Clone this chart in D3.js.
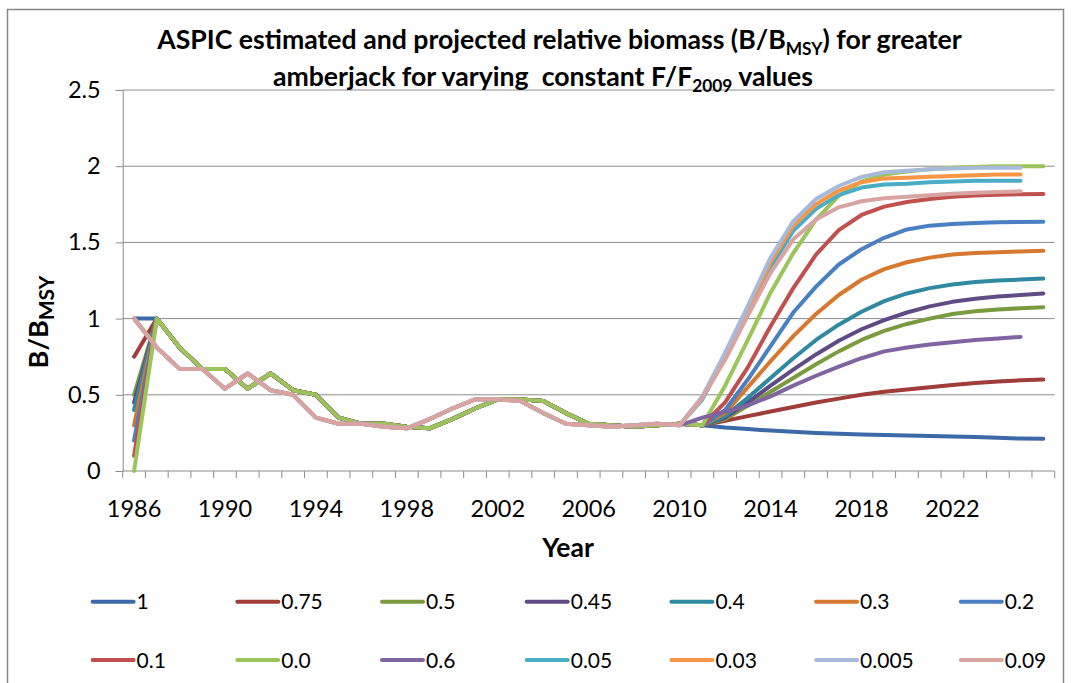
<!DOCTYPE html>
<html>
<head>
<meta charset="utf-8">
<script src="https://cdn.jsdelivr.net/npm/d3@7"></script>
<style>
  html, body { margin: 0; padding: 0; background: #ffffff; }
  svg { display: block; }
  text { font-family: Lato, "Open Sans", sans-serif; fill: #000; }
</style>
</head>
<body>
<svg id="chart" width="1071" height="683"></svg>
<script>
// Category slots along the x axis (one per year, plus a trailing unlabeled slot)
const years = ["1986","1987","1988","1989","1990","1991","1992","1993","1994","1995",
  "1996","1997","1998","1999","2000","2001","2002","2003","2004","2005",
  "2006","2007","2008","2009","2010","2011","2012","2013","2014","2015",
  "2016","2017","2018","2019","2020","2021","2022","2023","2024","2025",""];
const tickLabels = ["1986","1990","1994","1998","2002","2006","2010","2014","2018","2022"];
const yTicks = [0, 0.5, 1, 1.5, 2, 2.5];

// B/Bmsy for each constant F/F2009 scenario
const s1 = [1.00, 1.00,0.81,0.67,0.67,0.54,0.64,0.53,0.50,0.35,0.31,0.31,0.29,0.28,0.34,0.41,0.47,0.47,0.46,0.38,0.31,0.30,0.29,0.30,0.31,0.30,
  0.285,0.275,0.265,0.257,0.250,0.245,0.240,0.237,0.233,0.229,0.226,0.223,0.218,0.213,0.211];
const s075 = [0.75, 1.00,0.81,0.67,0.67,0.54,0.64,0.53,0.50,0.35,0.31,0.31,0.29,0.28,0.34,0.41,0.47,0.47,0.46,0.38,0.31,0.30,0.29,0.30,0.31,0.30,
  0.330,0.360,0.390,0.420,0.450,0.475,0.500,0.520,0.535,0.550,0.565,0.578,0.588,0.595,0.600];
const s05 = [0.50, 1.00,0.81,0.67,0.67,0.54,0.64,0.53,0.50,0.35,0.31,0.31,0.29,0.28,0.34,0.41,0.47,0.47,0.46,0.38,0.31,0.30,0.29,0.30,0.31,0.30,
  0.340,0.430,0.520,0.610,0.700,0.785,0.860,0.920,0.965,1.000,1.030,1.048,1.060,1.068,1.075];
const s045 = [0.45, 1.00,0.81,0.67,0.67,0.54,0.64,0.53,0.50,0.35,0.31,0.31,0.29,0.28,0.34,0.41,0.47,0.47,0.46,0.38,0.31,0.30,0.29,0.30,0.31,0.30,
  0.350,0.450,0.560,0.665,0.765,0.855,0.930,0.990,1.040,1.080,1.110,1.130,1.145,1.155,1.165];
const s04 = [0.40, 1.00,0.81,0.67,0.67,0.54,0.64,0.53,0.50,0.35,0.31,0.31,0.29,0.28,0.34,0.41,0.47,0.47,0.46,0.38,0.31,0.30,0.29,0.30,0.31,0.30,
  0.360,0.480,0.610,0.740,0.860,0.960,1.045,1.115,1.165,1.200,1.224,1.240,1.250,1.256,1.263];
const s03 = [0.30, 1.00,0.81,0.67,0.67,0.54,0.64,0.53,0.50,0.35,0.31,0.31,0.29,0.28,0.34,0.41,0.47,0.47,0.46,0.38,0.31,0.30,0.29,0.30,0.31,0.30,
  0.380,0.550,0.720,0.885,1.030,1.155,1.255,1.325,1.370,1.400,1.420,1.430,1.436,1.441,1.445];
const s02 = [0.20, 1.00,0.81,0.67,0.67,0.54,0.64,0.53,0.50,0.35,0.31,0.31,0.29,0.28,0.34,0.41,0.47,0.47,0.46,0.38,0.31,0.30,0.29,0.30,0.31,0.30,
  0.400,0.600,0.820,1.040,1.210,1.355,1.455,1.530,1.585,1.610,1.620,1.627,1.632,1.634,1.636];
const s01 = [0.10, 1.00,0.81,0.67,0.67,0.54,0.64,0.53,0.50,0.35,0.31,0.31,0.29,0.28,0.34,0.41,0.47,0.47,0.46,0.38,0.31,0.30,0.29,0.30,0.31,0.30,
  0.450,0.680,0.950,1.200,1.420,1.580,1.680,1.735,1.765,1.785,1.800,1.808,1.813,1.816,1.818];
const s00 = [0.00, 1.00,0.81,0.67,0.67,0.54,0.64,0.53,0.50,0.35,0.31,0.31,0.29,0.28,0.34,0.41,0.47,0.47,0.46,0.38,0.31,0.30,0.29,0.30,0.31,0.30,
  0.560,0.860,1.170,1.430,1.650,1.805,1.900,1.945,1.965,1.980,1.990,1.995,2.000,2.000,2.000];
const s06 = [1.00,0.81,0.67,0.67,0.54,0.64,0.53,0.50,0.35,0.31,0.31,0.29,0.28,0.34,0.41,0.47,0.47,0.46,0.38,0.31,0.30,0.29,0.30,0.31,0.30,
  0.350,0.390,0.430,0.490,0.560,0.625,0.685,0.740,0.785,0.810,0.830,0.845,0.860,0.870,0.880, null];
const s005 = [1.00,0.81,0.67,0.67,0.54,0.64,0.53,0.50,0.35,0.31,0.31,0.29,0.28,0.34,0.41,0.47,0.47,0.46,0.38,0.31,0.30,0.29,0.30,0.31,0.30,
  0.470,0.750,1.040,1.335,1.576,1.720,1.810,1.860,1.880,1.885,1.895,1.900,1.905,1.905,1.905, null];
const s003 = [1.00,0.81,0.67,0.67,0.54,0.64,0.53,0.50,0.35,0.31,0.31,0.29,0.28,0.34,0.41,0.47,0.47,0.46,0.38,0.31,0.30,0.29,0.30,0.31,0.30,
  0.480,0.760,1.060,1.370,1.610,1.750,1.840,1.895,1.920,1.925,1.930,1.935,1.940,1.945,1.945, null];
const s0005 = [1.00,0.81,0.67,0.67,0.54,0.64,0.53,0.50,0.35,0.31,0.31,0.29,0.28,0.34,0.41,0.47,0.47,0.46,0.38,0.31,0.30,0.29,0.30,0.31,0.30,
  0.490,0.776,1.083,1.400,1.640,1.785,1.870,1.930,1.960,1.970,1.980,1.985,1.990,1.990,1.990, null];
const s009 = [1.00,0.81,0.67,0.67,0.54,0.64,0.53,0.50,0.35,0.31,0.31,0.29,0.28,0.34,0.41,0.47,0.47,0.46,0.38,0.31,0.30,0.29,0.30,0.31,0.30,
  0.480,0.730,1.020,1.300,1.520,1.650,1.730,1.770,1.790,1.800,1.810,1.820,1.825,1.830,1.835, null];

const seriesNames = ["1","0.75","0.5","0.45","0.4","0.3","0.2","0.1","0.0","0.6","0.05","0.03","0.005","0.09"];
const seriesValues = [s1, s075, s05, s045, s04, s03, s02, s01, s00, s06, s005, s003, s0005, s009];
const seriesColors = ["#3d6aa6","#a03c39","#7a9a40","#604b85","#2f8aa1","#d7782f","#4a7fc1",
  "#c0504d","#9bc45a","#8064a2","#4bacc6","#f79646","#a7badc","#d9a3a2"];

const svg = d3.select("#chart");

// Chart frame
svg.append("rect")
  .attr("x", 7.5).attr("y", 9.5).attr("width", 1056).attr("height", 700)
  .attr("fill", "#fff").attr("stroke", "#868686").attr("stroke-width", 1.5);

const plot = { left: 122.7, right: 1054.7, top: 90, bottom: 471 };

const x = d3.scaleBand().domain(d3.range(years.length)).range([plot.left, plot.right]).padding(0);
const xc = i => x(i) + x.bandwidth() / 2;
const y = d3.scaleLinear().domain([0, 2.5]).range([plot.bottom, plot.top]);

// Horizontal gridlines
svg.append("g").selectAll("line").data(yTicks.filter(d => d > 0)).join("line")
  .attr("x1", plot.left).attr("x2", plot.right)
  .attr("y1", d => y(d)).attr("y2", d => y(d))
  .attr("stroke", "#8c8c8c").attr("stroke-width", 1);

// Y axis
const yAxis = d3.axisLeft(y).tickValues(yTicks).tickSize(7).tickPadding(15)
  .tickFormat(d => d3.format("")(d));
const gy = svg.append("g").attr("transform", `translate(${plot.left},0)`).call(yAxis);
gy.select(".domain").attr("stroke", "#8c8c8c");
gy.selectAll(".tick line").attr("stroke", "#8c8c8c");
gy.selectAll(".tick text").attr("font-size", 23.5).attr("font-family", "Lato");

// X axis: tick marks at category boundaries, labels every fourth year
const gx = svg.append("g").attr("transform", `translate(0,${plot.bottom})`);
gx.append("line").attr("x1", plot.left).attr("x2", plot.right).attr("stroke", "#8c8c8c");
gx.selectAll("line.tk").data(d3.range(years.length + 1)).join("line").attr("class", "tk")
  .attr("x1", i => plot.left + i * x.bandwidth()).attr("x2", i => plot.left + i * x.bandwidth())
  .attr("y1", 0).attr("y2", 7).attr("stroke", "#8c8c8c");
gx.selectAll("text").data(tickLabels).join("text")
  .attr("x", d => xc(years.indexOf(d))).attr("y", 46)
  .attr("text-anchor", "middle").attr("font-size", 23.5).text(d => d);

// Series lines
const line = d3.line()
  .defined(d => d != null)
  .x((d, i) => xc(i)).y(d => y(d));
svg.append("g").selectAll("path").data(seriesValues).join("path")
  .attr("d", d => line(d))
  .attr("fill", "none")
  .attr("stroke", (d, i) => seriesColors[i])
  .attr("stroke-width", 4)
  .attr("stroke-linejoin", "round").attr("stroke-linecap", "round");

// Title (two lines, sized so the first line spans the title box)
const title = svg.append("g").attr("font-weight", "bold");
const t1 = title.append("text").attr("x", 559.5).attr("y", 49).attr("text-anchor", "middle");
t1.append("tspan").attr("class", "main").text("ASPIC estimated and projected relative biomass (B/B");
t1.append("tspan").attr("class", "sub").attr("dy", 6).text("MSY");
t1.append("tspan").attr("class", "main").attr("dy", -6).text(") for greater");
const t2 = title.append("text").attr("x", 543).attr("y", 86).attr("text-anchor", "middle")
  .style("white-space", "pre");
t2.append("tspan").attr("class", "main").text("amberjack for varying  constant F/F");
t2.append("tspan").attr("class", "sub").attr("dy", 6).text("2009");
t2.append("tspan").attr("class", "main").attr("dy", -6).text(" values");
let fs = 26;
title.selectAll(".main").attr("font-size", fs);
title.selectAll(".sub").attr("font-size", fs * 0.65);
const w1 = t1.node().getComputedTextLength();
fs = fs * 805 / w1;
title.selectAll(".main").attr("font-size", fs);
title.selectAll(".sub").attr("font-size", fs * 0.65);

// Axis titles
const yt = svg.append("text").attr("transform", "translate(48,322) rotate(-90)")
  .attr("text-anchor", "middle").attr("font-weight", "bold").attr("font-size", 27);
yt.append("tspan").text("B/B");
yt.append("tspan").attr("font-size", 21).attr("dy", 6).text("MSY");
svg.append("text").attr("x", 568).attr("y", 557).attr("text-anchor", "middle")
  .attr("font-weight", "bold").attr("font-size", 26.5).text("Year");

// Legend: two rows of seven entries
const leg = svg.append("g").selectAll("g").data(seriesNames).join("g")
  .attr("transform", (d, i) => `translate(${92.6 + (i % 7) * 144.7},${601.7 + Math.floor(i / 7) * 58.3})`);
leg.append("line").attr("x1", 0).attr("x2", 41).attr("stroke", (d, i) => seriesColors[i])
  .attr("stroke-width", 4).attr("stroke-linecap", "round");
leg.append("text").attr("x", 44).attr("dy", "0.36em").attr("font-size", 21).text(d => d);
</script>
</body>
</html>
